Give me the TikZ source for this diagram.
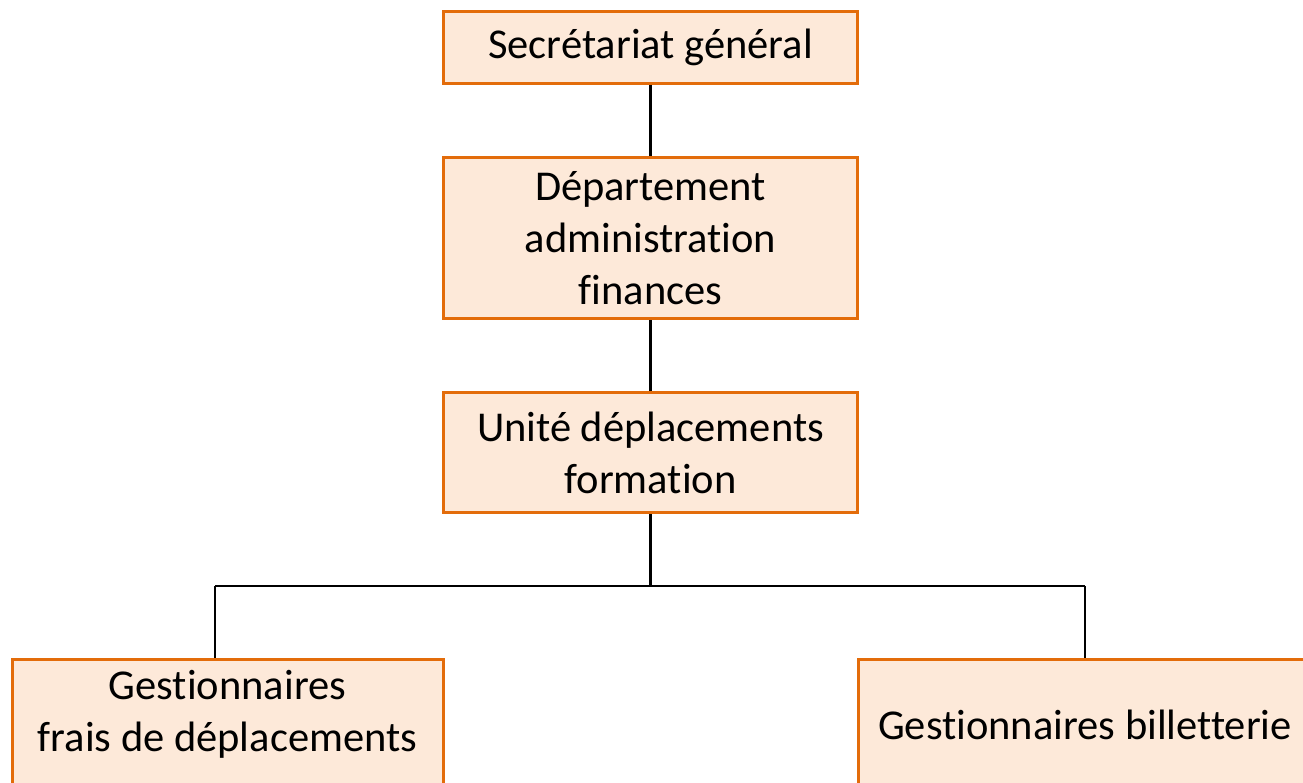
\documentclass[tikz,border=0pt]{standalone}
\usepackage{fontspec}
\setmainfont{Carlito}[Ligatures=NoCommon]
\definecolor{boxborder}{HTML}{E36C0A}
\definecolor{boxfill}{HTML}{FDE9D9}
\begin{document}
\begin{tikzpicture}[x=1pt,y=1pt,
  orgbox/.style={draw=boxborder, fill=boxfill, line width=3pt, inner sep=0pt, align=center,
    font=\fontsize{42.5}{52}\selectfont},
  txt/.style={inner sep=0pt, align=center, font=\fontsize{42.5}{52}\selectfont},
  link/.style={draw=black, line width=2.2pt}]
\useasboundingbox (0,0) rectangle (1303,-782);
\clip (0,0) rectangle (1303,-782);
\node[orgbox, minimum width=414, minimum height=72] (a) at (650.5,-47) {Secrétariat général};
\node[orgbox, minimum width=414, minimum height=161] (b) at (650.5,-238) {Département\\administration\\finances};
\node[orgbox, minimum width=414, minimum height=120] (c) at (650.5,-452.5) {Unité déplacements\\formation};
\node[orgbox, minimum width=431, minimum height=136, anchor=north] (d) at (227.5,-657.5) {};
\node[txt] (dt) at (227.5,-714) {Gestionnaires\\frais de déplacements};
\node[orgbox, minimum width=454, minimum height=136, anchor=north] (e) at (1085,-657.5) {};
\node[txt] (et) at (1085,-725) {Gestionnaires billetterie};
\coordinate (j) at (650.5,-586);
\draw[link] (a.south) -- (b.north);
\draw[link] (b.south) -- (c.north);
\draw[link] (c.south) -- (j);
\draw[link] (215,-586) -- (1085,-586);
\draw[link] (j -| 215,0) -- (215,-657.5 |- d.north);
\draw[link] (j -| e.north) -- (e.north);
\end{tikzpicture}
\end{document}
